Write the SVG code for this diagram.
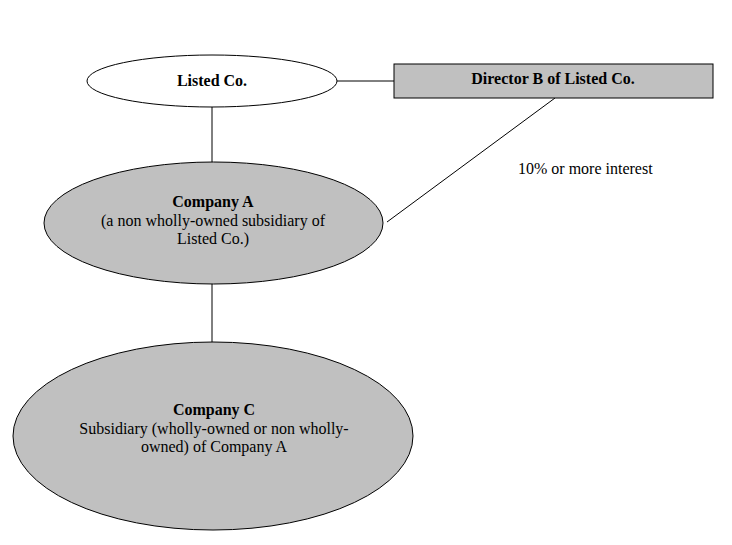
<svg xmlns="http://www.w3.org/2000/svg" width="732" height="545" viewBox="0 0 732 545">
<style>
.n{stroke:#000;stroke-width:1}
.w{fill:#fff}
.g{fill:#c0c0c0}
text{font-family:"Liberation Serif","Times New Roman",serif;font-size:16px;fill:#000}
.b{font-weight:bold}
.c{text-anchor:middle}
.e{stroke:#000;stroke-width:1;fill:none}
</style>
<rect width="732" height="545" fill="#fff"/>
<g id="connectors">
<line class="e" x1="337" y1="81" x2="394" y2="81"/>
<line class="e" x1="212" y1="107" x2="212" y2="162"/>
<line class="e" x1="555" y1="98" x2="387" y2="222"/>
<line class="e" x1="212" y1="284" x2="212" y2="342"/>
</g>
<g id="listed">
<ellipse class="n w" cx="212" cy="81" rx="125" ry="26"/>
<text class="b c" x="212" y="86">Listed Co.</text>
</g>
<g id="director">
<rect class="n g" x="394" y="64" width="319" height="34"/>
<text class="b c" x="553" y="84">Director B of Listed Co.</text>
</g>
<g id="label">
<text x="518" y="174">10% or more interest</text>
</g>
<g id="companyA">
<ellipse class="n g" cx="213.5" cy="223" rx="169.5" ry="61"/>
<text class="c" x="213" y="207"><tspan class="b">Company A</tspan><tspan x="213" dy="18.5">(a non wholly-owned subsidiary of</tspan><tspan x="213" dy="18.5">Listed Co.)</tspan></text>
</g>
<g id="companyC">
<ellipse class="n g" cx="213" cy="436" rx="200" ry="94"/>
<text class="c" x="214" y="415"><tspan class="b">Company C</tspan><tspan x="214" dy="18.5">Subsidiary (wholly-owned or non wholly-</tspan><tspan x="214" dy="18.5">owned) of Company A</tspan></text>
</g>
</svg>
